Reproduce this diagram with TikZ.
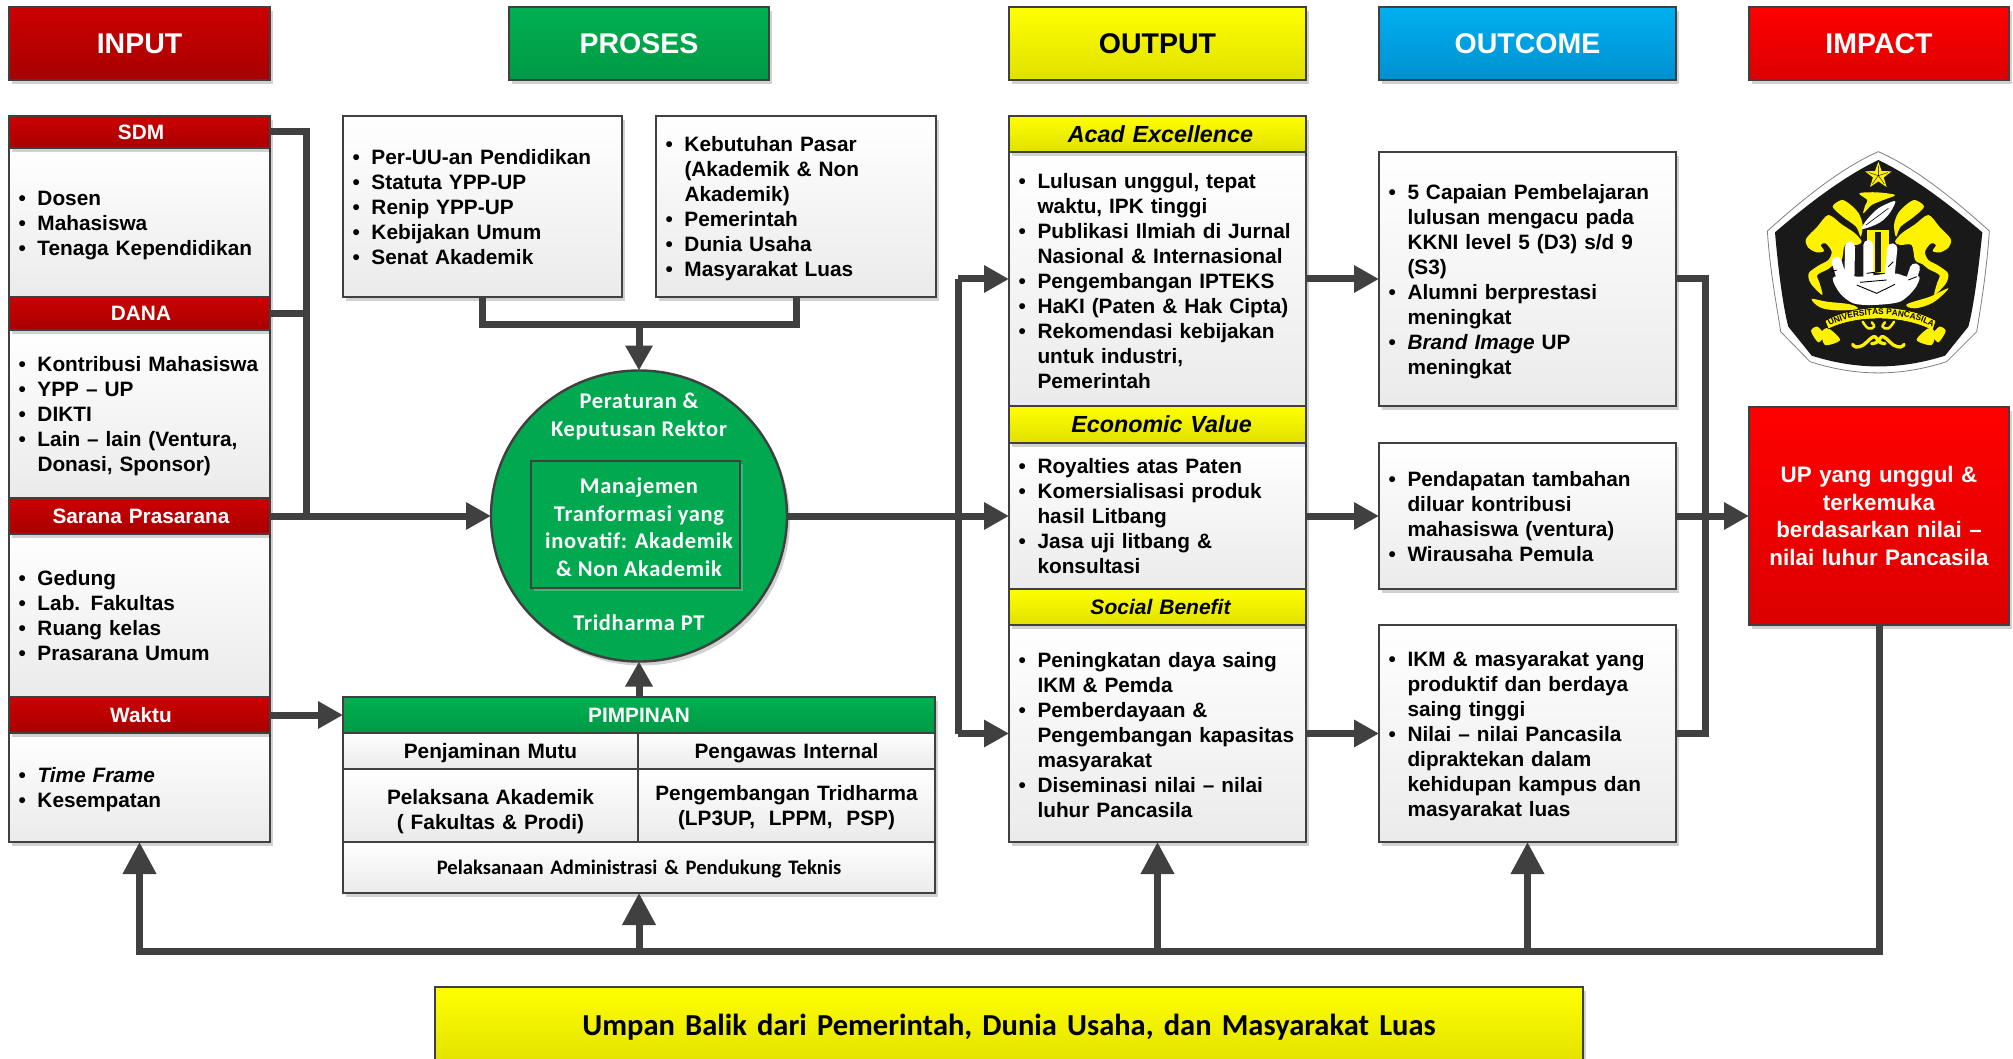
\documentclass[tikz,border=0pt]{standalone}
\usepackage{fontspec}
\setmainfont{Liberation Sans}
\newfontfamily\carl{Carlito}
\newfontfamily\carlsp[LetterSpace=3]{Carlito}
\usetikzlibrary{shapes.geometric,shadows,arrows.meta,decorations.text}
\definecolor{lc}{HTML}{404040}
\definecolor{grn}{HTML}{00A84F}
\definecolor{lyel}{HTML}{FFFF00}
\definecolor{redA}{HTML}{CC0000}
\definecolor{redB}{HTML}{A80000}
\definecolor{redC}{HTML}{FF0000}
\definecolor{redD}{HTML}{DC0000}
\definecolor{grnA}{HTML}{00B050}
\definecolor{grnB}{HTML}{009946}
\definecolor{bluA}{HTML}{00B0F0}
\definecolor{bluB}{HTML}{0090D0}
\tikzset{
 basebox/.style={draw=lc,line width=2.4pt,outer sep=0pt,inner xsep=4pt,inner ysep=0pt,
   drop shadow={shadow xshift=3pt,shadow yshift=-4pt,fill=black,opacity=.18}},
 greybox/.style={basebox,top color=white,bottom color=black!8,align=left,text=black,
   font=\fontsize{20.8}{25}\selectfont\bfseries},
 cellbox/.style={greybox,align=center},
 headfont/.style={align=center,font=\fontsize{28.5}{32}\selectfont\bfseries},
 subfont/.style={align=center,font=\fontsize{20.8}{25}\selectfont\bfseries},
 itfont/.style={align=center,font=\fontsize{23.3}{26}\selectfont\bfseries\itshape},
 redgrad/.style={basebox,top color=redA,bottom color=redB,text=white},
 brightred/.style={basebox,top color=redC,bottom color=redD,text=white},
 greengrad/.style={basebox,top color=grnA,bottom color=grnB,text=white},
 yelgrad/.style={basebox,top color=lyel,bottom color=lyel!88!black,text=black},
 bluegrad/.style={basebox,top color=bluA,bottom color=bluB,text=white},
 conn/.style={draw=lc,line width=7pt,line join=miter},
 arr/.style={conn,-{Triangle[length=25pt,width=26pt]}},
 bigarr/.style={conn,-{Triangle[length=32pt,width=32pt]}},
 ctext/.style={text=white,align=center,font=\fontsize{22.5}{27.6}\selectfont\carlsp\bfseries},
}
\newcommand\bx[7]{%
  \pgfmathsetmacro\bxw{#4-#2}\pgfmathsetmacro\bxh{#5-#3}%
  \node[#6,anchor=north west,minimum width=\bxw pt,minimum height=\bxh pt,text width=\bxw pt-8pt] (#1) at (#2,#3) {#7};}
\newcommand\itm[1]{\par\noindent\hangindent=24.5pt\hangafter=1\hbox to 24.5pt{\hskip5.5pt•\hss}{\let\\\newline #1}\par}
\newcommand\logohalf{%
  \fill[yellow] plot[smooth cycle,tension=.5] coordinates {(205,210)(172,245)(138,282)(145,308)(170,322)(192,318)(182,300)(197,295)(215,320)(205,345)(175,362)(146,385)(152,415)(187,450)(178,412)(172,390)(205,372)(222,358)(245,345)(255,300)(290,300)(305,290)(285,265)(245,238)};
  \fill[yellow] plot[smooth cycle,tension=.5] coordinates {(218,185)(248,215)(288,245)(302,275)(308,240)(296,205)(270,178)(245,165)};
  \fill[yellow] plot[smooth cycle,tension=.5] coordinates {(153,558)(172,545)(192,570)(175,592)};
  \fill[yellow] plot[smooth cycle,tension=.5] coordinates {(185,562)(205,550)(240,585)(195,600)};
  \draw[yellow,line width=3.3pt,line cap=round,line join=round] plot[smooth,tension=.8] coordinates {(278,598)(288,606)(310,600)(330,582)(345,575)(352,590)(335,596)};
  \draw[yellow,line width=2.5pt,line cap=round] plot[smooth,tension=.8] coordinates {(308,530)(325,550)(342,545)(335,532)};
}
\begin{document}
\begin{tikzpicture}[x=1pt,y=-1pt]
\useasboundingbox (0,0) rectangle (2013,1059);
\fill[white] (0,0) rectangle (2013,1059);
\coordinate (busA) at (306,132);
\coordinate (busC) at (306,516);
\coordinate (jnA) at (482.5,324);
\coordinate (jnB) at (796,324);
\coordinate (jnC) at (639,324);
\coordinate (brA) at (958,279);
\coordinate (brB) at (958,516);
\coordinate (brC) at (958,733.5);
\coordinate (rsA) at (1705,279);
\coordinate (rsC) at (1705,733.5);
\coordinate (fbL) at (139.5,951);
\coordinate (fbP) at (639,951);
\coordinate (fbO) at (1157.5,951);
\coordinate (fbC) at (1527.5,951);
% headers
\bx{hInput}{9}{7}{270}{80}{redgrad,headfont}{INPUT}
\bx{hProses}{509}{7}{769}{80}{greengrad,headfont}{PROSES}
\bx{hOutput}{1009}{7}{1306}{80}{yelgrad,headfont}{OUTPUT}
\bx{hOutcome}{1379}{7}{1676}{80}{bluegrad,headfont}{OUTCOME}
\bx{hImpact}{1749}{7}{2009}{80}{brightred,headfont}{IMPACT}
% input column
\bx{sdmB}{9}{148}{270}{297}{greybox}{\itm{Dosen}\itm{Mahasiswa}\itm{Tenaga Kependidikan}\vspace{5pt}}
\bx{sdmH}{9}{116}{270}{148}{redgrad,subfont}{\hspace*{3pt}SDM}
\bx{danaB}{9}{330}{270}{498}{greybox}{\itm{Kontribusi Mahasiswa}\itm{YPP – UP}\itm{DIKTI}\itm{Lain – lain (Ventura,\\Donasi, Sponsor)}\vspace{5pt}}
\bx{danaH}{9}{297}{270}{330}{redgrad,subfont}{\hspace*{3pt}DANA}
\bx{sarB}{9}{534}{270}{697}{greybox}{\itm{Gedung}\itm{Lab. Fakultas}\itm{Ruang kelas}\itm{Prasarana Umum}\vspace{10pt}}
\bx{sarH}{9}{498}{270}{534}{redgrad,subfont}{\hspace*{3pt}Sarana Prasarana}
\bx{wakB}{9}{733}{270}{842}{greybox}{\itm{\textit{Time Frame}}\itm{Kesempatan}\vspace{5pt}}
\bx{wakH}{9}{697}{270}{733}{redgrad,subfont}{\hspace*{3pt}Waktu}
% proses
\bx{pA}{343}{116}{622}{297}{greybox}{\itm{Per-UU-an Pendidikan}\itm{Statuta YPP-UP}\itm{Renip YPP-UP}\itm{Kebijakan Umum}\itm{Senat Akademik}\vspace{8pt}}
\bx{pB}{656}{116}{936}{297}{greybox}{\itm{Kebutuhan Pasar\\(Akademik \& Non\\Akademik)}\itm{Pemerintah}\itm{Dunia Usaha}\itm{Masyarakat Luas}\vspace{6pt}}
\node[ellipse,draw=lc,line width=2.4pt,fill=grn,minimum width=296pt,minimum height=291pt,outer sep=0pt,inner sep=0pt,
  drop shadow={shadow xshift=3pt,shadow yshift=-4pt,fill=black,opacity=.18}] (core) at (639,516) {};
\node[ctext] (coreTop) at (639,416.5) {Peraturan \&\\Keputusan Rektor};
\node[ctext] (coreBot) at (639,623) {Tridharma PT};
\node[draw=lc,line width=2.4pt,fill=grn,minimum width=209pt,minimum height=127pt,outer sep=0pt,
  drop shadow={shadow xshift=3pt,shadow yshift=-3pt,fill=white,opacity=.22}] (coreIn) at (635.5,524.5) {};
\node[ctext] (coreTxt) at (639,527) {Manajemen\\Tranformasi yang\\inovatif: Akademik\\\& Non Akademik};
% pimpinan
\bx{pimH}{343}{697}{935}{733}{greengrad,subfont}{PIMPINAN}
\bx{cA}{343}{733}{638}{769}{cellbox}{Penjaminan Mutu\par\vspace{-5pt}}
\bx{cB}{638}{733}{935}{769}{cellbox}{Pengawas Internal\par\vspace{-5pt}}
\bx{cC}{343}{769}{638}{842}{cellbox}{Pelaksana Akademik\\( Fakultas \& Prodi)\par\vspace{-13pt}}
\bx{cD}{638}{769}{935}{842}{cellbox}{Pengembangan Tridharma\\(LP3UP,\ \ LPPM,\ \ PSP)\par\vspace{-5pt}}
\bx{cE}{343}{842}{935}{893}{cellbox,font=\fontsize{20.6}{24}\selectfont\carl\bfseries}{Pelaksanaan Administrasi \& Pendukung Teknis\par\vspace{-10pt}}
% output
\bx{oA}{1009}{152}{1306}{406}{greybox}{\itm{Lulusan unggul, tepat\\waktu, IPK tinggi}\itm{Publikasi Ilmiah di Jurnal\\Nasional \& Internasional}\itm{Pengembangan IPTEKS}\itm{HaKI (Paten \& Hak Cipta)}\itm{Rekomendasi kebijakan\\untuk industri,\\Pemerintah}\vspace{6pt}}
\bx{oAh}{1009}{116}{1306}{152}{yelgrad,itfont}{\hspace*{6pt}Acad Excellence}
\bx{oB}{1009}{443}{1306}{589}{greybox}{\itm{Royalties atas Paten}\itm{Komersialisasi produk\\hasil Litbang}\itm{Jasa uji litbang \&\\konsultasi}\vspace{10pt}}
\bx{oBh}{1009}{406}{1306}{443}{yelgrad,itfont}{\hspace*{8pt}Economic Value}
\bx{oC}{1009}{625}{1306}{842}{greybox}{\itm{Peningkatan daya saing\\IKM \& Pemda}\itm{Pemberdayaan \&\\Pengembangan kapasitas\\masyarakat}\itm{Diseminasi nilai – nilai\\luhur Pancasila}\vspace{6pt}}
\bx{oCh}{1009}{589}{1306}{625}{yelgrad,font=\fontsize{21}{25}\selectfont\bfseries\itshape,align=center}{\hspace*{6pt}Social Benefit}
% outcome
\bx{uA}{1379}{152}{1676}{406}{greybox}{\itm{5 Capaian Pembelajaran\\lulusan mengacu pada\\KKNI level 5 (D3) s/d 9\\(S3)}\itm{Alumni berprestasi\\meningkat}\itm{\textit{Brand Image} UP\\meningkat}\vspace{5pt}}
\bx{uB}{1379}{443}{1676}{589}{greybox}{\itm{Pendapatan tambahan\\diluar kontribusi\\mahasiswa (ventura)}\itm{Wirausaha Pemula}\vspace{8pt}}
\bx{uC}{1379}{625}{1676}{842}{greybox}{\itm{IKM \& masyarakat yang\\produktif dan berdaya\\saing tinggi}\itm{Nilai – nilai Pancasila\\dipraktekan dalam\\kehidupan kampus dan\\masyarakat luas}\vspace{4pt}}
% impact
\bx{iB}{1749}{407}{2009}{625}{brightred,align=center,font=\fontsize{22.4}{27.8}\selectfont\bfseries}{UP yang unggul \&\\terkemuka\\berdasarkan nilai –\\nilai luhur Pancasila}
% feedback
\bx{fb}{435}{987}{1583}{1067}{yelgrad,align=center,font=\fontsize{30.5}{34}\selectfont\carl\bfseries}{Umpan Balik dari Pemerintah, Dunia Usaha, dan Masyarakat Luas}
% connectors
\path[conn] (sdmH.east) -- (busA) -- (busC);
\path[conn] (danaH.east) -- (danaH.east -| busA);
\path[arr] (sarH.east) -- (core.west);
\path[arr] (wakH.east) -- (pimH.west);
\path[conn] (pA.south) -- (jnA) -- (jnB) -- (pB.south);
\path[arr] (jnC) -- (core.north);
\path[arr] (pimH.north -| core.south) -- (core.south);
\path[conn] (core.east) -- (brB);
\path[conn] (brA) -- (brC);
\path[arr] (brA) -- (oA.west);
\path[arr] (brB) -- (oB.west);
\path[arr] (brC) -- (oC.west);
\path[arr] (oA.east) -- (uA.west);
\path[arr] (oB.east) -- (uB.west);
\path[arr] (oC.east) -- (uC.west);
\path[conn] (uA.east) -- (rsA) -- (rsC) -- (uC.east);
\path[arr] (uB.east) -- (iB.west);
\path[bigarr] (iB.south) |- (fbL) -- (wakB.south);
\path[bigarr] (fbP) -- (cE.south);
\path[bigarr] (fbO) -- (oC.south);
\path[bigarr] (fbC) -- (uC.south);
% logo
\begin{scope}[shift={(1760,145)},scale=1/3]
  \path[fill=white,draw=black!50,line width=.8pt] (355,20) .. controls (470,70) and (590,170) .. (688,258) .. controls (680,380) and (660,500) .. (650,560)
     -- (560,650) .. controls (420,695) and (290,695) .. (150,650) -- (62,560) .. controls (50,480) and (30,380) .. (22,258) .. controls (120,170) and (240,70) .. (355,20) -- cycle;
  \fill[black!90] (355,45) .. controls (460,95) and (570,180) .. (667,262) .. controls (655,380) and (640,490) .. (625,545)
     -- (555,632) .. controls (420,675) and (290,675) .. (155,632) -- (85,545) .. controls (70,490) and (55,380) .. (45,262) .. controls (140,180) and (250,95) .. (355,45) -- cycle;
  \logohalf
  \fill[yellow] plot[smooth cycle,tension=.5] coordinates {(298,145)(350,142)(405,150)(370,165)(335,180)(310,205)(316,180)(322,165)};
  \fill[yellow] (322,255) rectangle (388,385);
  \fill[black!90] (346,262) rectangle (362,380);
  \fill[yellow] plot[smooth cycle,tension=.6] coordinates {(155,462)(200,470)(270,478)(292,492)(230,496)(180,487)};
  \fill[yellow] plot[smooth cycle,tension=.6] coordinates {(565,430)(510,455)(440,478)(465,490)(520,472)};
  \fill[yellow] (355,92) +(-90:42) -- +(-54:17) -- +(-18:42) -- +(18:17) -- +(54:42) -- +(90:17) -- +(126:42) -- +(162:17) -- +(198:42) -- +(234:17) -- cycle;
  \draw[black,line width=.4pt] (355,92) -- +(-90:30) (355,92) -- +(-18:30) (355,92) -- +(54:30) (355,92) -- +(126:30) (355,92) -- +(198:30);
  \fill[white] plot[smooth cycle,tension=.5] coordinates {(305,252)(320,225)(355,190)(405,168)(392,200)(370,225)(345,240)};
  \draw[black,line width=.6pt] (318,240) -- (385,190);
  \draw[white,line width=10pt,line cap=round] (230,350) -- (248,410) (270,305) -- (268,410) (325,300) -- (325,400) (397,310) -- (388,400) (465,370) -- (448,420);
  \fill[white] plot[smooth cycle,tension=.5] coordinates {(218,400)(240,445)(280,475)(340,480)(420,470)(465,430)(478,395)(440,395)(400,385)(300,395)(255,390)};
  \draw[black,line width=.9pt] (290,420) -- (350,445) -- (405,418) (300,412) -- (380,405) (320,385) -- (360,380) (445,405) -- (470,395) (230,375) -- (215,380) (385,365) -- (400,350);
  \path[fill=yellow,draw=black,line width=.5pt] (195,527) .. controls (290,475) and (430,475) .. (528,527) -- (518,557) .. controls (430,510) and (290,510) .. (205,552) -- cycle;
  \path[decorate,decoration={text along path,text align=center,text={|\fontsize{8.3}{9}\selectfont\bfseries|UNIVERSITAS PANCASILA}}] (205,545) .. controls (290,497) and (430,497) .. (522,548);
\end{scope}
\begin{scope}[shift={(1996.67,145)},xscale=-1/3,yscale=1/3]
  \logohalf
\end{scope}
\end{tikzpicture}
\end{document}
